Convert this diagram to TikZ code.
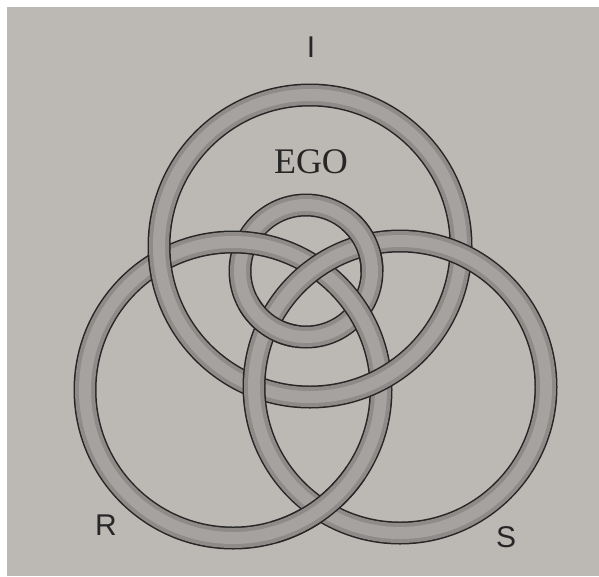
\documentclass[tikz,border=0pt]{standalone}
\usepackage{fontspec}
\setmainfont{Liberation Serif}
\newfontfamily\lblsans{Liberation Sans}
\definecolor{paper}{HTML}{BCB9B5}
\definecolor{tubeedge}{HTML}{8E8B89}
\definecolor{tubemid}{HTML}{A5A29F}
\definecolor{tubeink}{HTML}{262626}
\tikzset{
  tubeline/.style={draw=tubeink, line width=23pt},
  tubeshade/.style={draw=tubeedge, line width=20pt},
  tubecore/.style={draw=tubemid, line width=12pt},
  lbl/.style={font=\lblsans\fontsize{30}{30}\selectfont, text=black!85, inner sep=0pt},
  egolbl/.style={font=\fontsize{36}{36}\selectfont, text=black!85, inner sep=0pt},
}
% full ring: centre x, centre y, radius
\newcommand\tubering[3]{%
  \path[tubeline] (#1,#2) circle[radius=#3];
  \path[tubeshade] (#1,#2) circle[radius=#3];
  \path[tubecore] (#1,#2) circle[radius=#3];}
% over-crossing patch: centre x, centre y, radius, from angle, to angle
\newcommand\tubearc[5]{%
  \path[tubeline] (#1,#2) ++({#4+3}:#3) arc[start angle={#4+3}, end angle={#5-3}, radius=#3];
  \path[tubeshade] (#1,#2) ++({#4+1.5}:#3) arc[start angle={#4+1.5}, end angle={#5-1.5}, radius=#3];
  \path[tubecore] (#1,#2) ++(#4:#3) arc[start angle=#4, end angle=#5, radius=#3];}
\begin{document}
\begin{tikzpicture}[x=1pt,y=-1pt]
\useasboundingbox (0,0) rectangle (599,576);
\fill[white] (0,0) rectangle (599,576);
\fill[paper] (7,7) rectangle (599,576);
% rings, bottom to top: ego, R, I, S
\tubering{306}{271}{66}
\tubering{233}{390}{148}
\tubering{310}{246}{151}
\tubering{400}{387}{146}
% crossings where a lower-drawn ring passes over
\tubearc{306}{271}{66}{-52}{4}
\tubearc{306}{271}{66}{96}{154}
\tubearc{233}{390}{148}{31}{77}
% labels
\node[lbl] (lI) at (311,47) {I};
\node[lbl] (lR) at (106,525) {R};
\node[lbl] (lS) at (506,537) {S};
\node[egolbl] (lEGO) at (311,162) {EGO};
\end{tikzpicture}
\end{document}
